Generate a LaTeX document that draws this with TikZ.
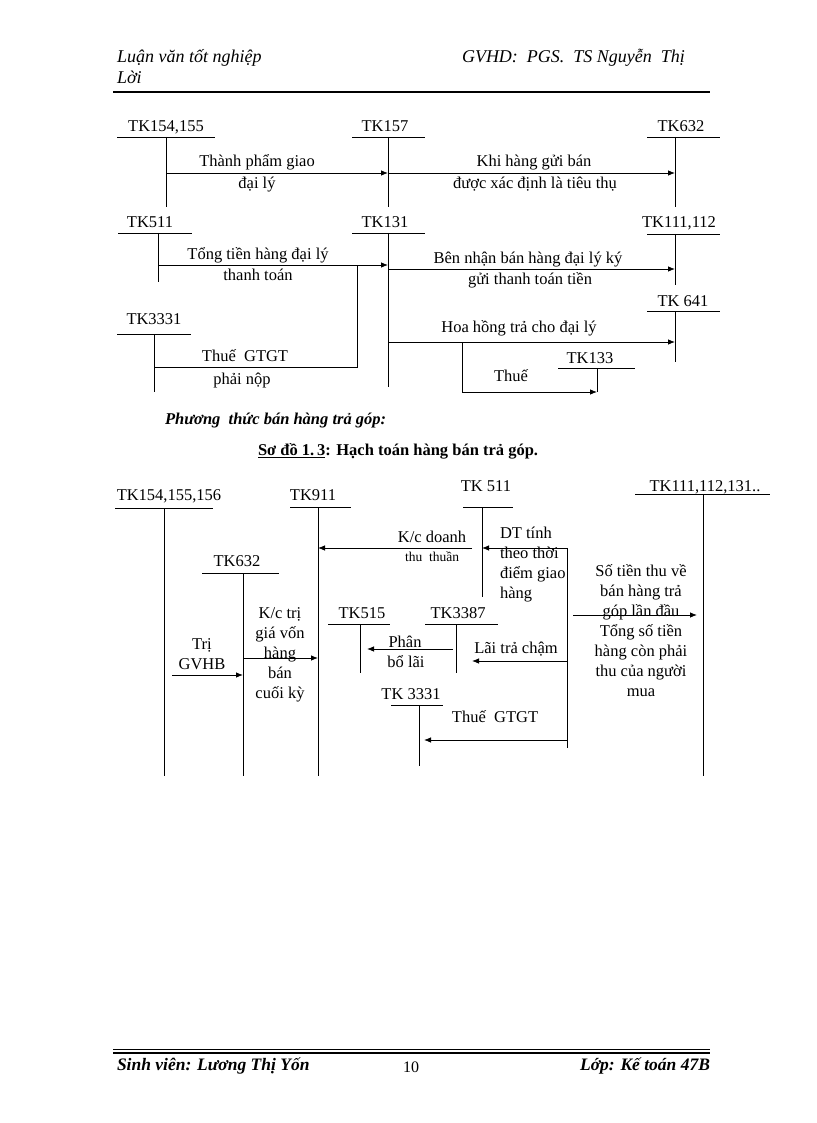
\documentclass[tikz,border=0pt]{standalone}
\usepackage{fontspec}
\setmainfont{Liberation Serif}
\usetikzlibrary{arrows.meta}
\begin{document}
\begin{tikzpicture}[x=1pt,y=-1pt,
  every node/.style={inner sep=0pt, outer sep=0pt},
  txt/.style={font=\fontsize{16.5}{20}\selectfont, align=center},
  lbl/.style={font=\fontsize{16.5}{20}\selectfont, text height=12pt, text depth=4pt},
  small/.style={font=\fontsize{13.5}{16}\selectfont, text height=10pt, text depth=3pt},
  ln/.style={line width=0.8pt},
  arr/.style={line width=0.8pt, -{Latex[length=7pt,width=5.5pt]}},
  hdr/.style={font=\fontsize{18}{21}\selectfont\itshape, text height=12.5pt, text depth=4pt},
  ftr/.style={font=\fontsize{17.5}{20}\selectfont\bfseries\itshape, text height=12.5pt, text depth=4pt},
]
\useasboundingbox (0,0) rectangle (816,1123);

% ---------- header ----------
\node[hdr, anchor=west] (h1) at (117,58) {Luận văn tốt nghiệp};
\node[hdr, anchor=west] (h2) at (117,79) {Lời};
\node[hdr, anchor=west] (h3) at (462,58) {GVHD:\ \ PGS.\ \ TS Nguyễn\ \ Thị};
\draw[line width=1.8pt] (113,92) -- (710,92);

% ---------- diagram 1 ----------
% TK154,155
\node[lbl] (a154) at (166,128) {TK154,155};
\draw[ln] (117,137) -- (215,137);
\coordinate (t154) at (166,137); \coordinate (b154) at (166,207);
\draw[ln] (t154) -- (b154);
% TK157
\node[lbl] (a157) at (385,128) {TK157};
\draw[ln] (352,137) -- (425,137);
\coordinate (t157) at (388,137); \coordinate (b157) at (388,207);
\draw[ln] (t157) -- (b157);
% TK632
\node[lbl] (a632) at (681,128) {TK632};
\draw[ln] (647,137) -- (720,137);
\coordinate (t632) at (675,137); \coordinate (b632) at (675,207);
\draw[ln] (t632) -- (b632);

\draw[arr] (t154 |- 0,173) -- (t157 |- 0,173);
\node[lbl] (l1) at (257,163) {Thành phẩm giao};
\node[lbl] (l1b) at (257,185) {đại lý};
\draw[arr] (t157 |- 0,173) -- (t632 |- 0,173);
\node[lbl] (l2) at (534,163) {Khi hàng gửi bán};
\node[lbl] (l2b) at (535,185) {được xác định là tiêu thụ};

% TK511
\node[lbl] (a511) at (150,224) {TK511};
\draw[ln] (118,233) -- (192,233);
\coordinate (t511) at (158,233); \coordinate (b511) at (158,282);
\draw[ln] (t511) -- (b511);
% TK131
\node[lbl] (a131) at (385,224) {TK131};
\draw[ln] (352,233) -- (425,233);
\coordinate (t131) at (388,233); \coordinate (b131) at (388,387);
\draw[ln] (t131) -- (b131);
% TK111,112
\node[lbl] (a111) at (679,224) {TK111,112};
\draw[ln] (647,234) -- (720,234);
\coordinate (t111) at (675,234); \coordinate (b111) at (675,285);
\draw[ln] (t111) -- (b111);
% TK3331
\node[lbl] (a3331) at (154,320) {TK3331};
\draw[ln] (117,334) -- (191,334);
\coordinate (t3331) at (154,334); \coordinate (b3331) at (154,392);
\draw[ln] (t3331) -- (b3331);
% TK 641
\node[lbl] (a641) at (683,302) {TK\ 641};
\draw[ln] (647,311) -- (720,311);
\coordinate (t641) at (675,311); \coordinate (b641) at (675,362);
\draw[ln] (t641) -- (b641);
% TK133
\node[lbl] (a133) at (590,359) {TK133};
\draw[ln] (558,368) -- (635,368);
\coordinate (t133) at (597,368); \coordinate (b133) at (597,392);
\draw[ln] (t133) -- (b133);

\draw[arr] (t511 |- 0,265) -- (t131 |- 0,265);
\node[lbl] (l3) at (258,255) {Tổng tiền hàng đại lý};
\node[lbl] (l3b) at (258,276) {thanh toán};
\coordinate (j1) at (357,265);
\draw[ln] (j1) -- (357,367) -- (t3331 |- 0,367);
\node[lbl] (l4) at (245,357) {Thuế\ \ GTGT};
\node[lbl] (l4b) at (242,380) {phải nộp};

\draw[arr] (t131 |- 0,269) -- (t111 |- 0,269);
\node[lbl] (l5) at (528,259) {Bên nhận\ bán hàng đại lý ký};
\node[lbl] (l5b) at (530,280) {gửi thanh toán tiền};

\draw[arr] (t131 |- 0,342) -- (t641 |- 0,342);
\node[lbl] (l6) at (519,328) {Hoa hồng trả cho đại lý};
\coordinate (j2) at (462,342);
\draw[arr] (j2) -- (462,392) -- (b133);
\node[lbl] (l7) at (511,377) {Thuế};

% ---------- section titles ----------
\node[font=\fontsize{16.5}{20}\selectfont\bfseries\itshape, anchor=west] (s1) at (165,421) {Phương\ \ thức bán hàng trả góp:};
\node[font=\fontsize{16.5}{20}\selectfont\bfseries, anchor=west] (s2) at (258,451) {\underline{Sơ đồ 1.\,3}: Hạch toán hàng bán trả góp.};

% ---------- diagram 2 ----------
% TK154,155,156
\node[lbl] (c154) at (169,496) {TK154,155,156};
\draw[ln] (115,508) -- (213,508);
\coordinate (u154) at (164,508); \coordinate (d154) at (164,776);
\draw[ln] (u154) -- (d154);
% TK911
\node[lbl] (c911) at (313,496) {TK911};
\draw[ln] (290,507) -- (351,507);
\coordinate (u911) at (318,507); \coordinate (d911) at (318,776);
\draw[ln] (u911) -- (d911);
% TK632
\node[lbl] (c632) at (237,562) {TK632};
\draw[ln] (202,573) -- (279,573);
\coordinate (u632) at (243,573); \coordinate (d632) at (243,776);
\draw[ln] (u632) -- (d632);
% TK 511
\node[lbl] (c511) at (486,487) {TK\ 511};
\draw[ln] (463,507) -- (513,507);
\coordinate (u511) at (482,507); \coordinate (d511) at (482,597);
\draw[ln] (u511) -- (d511);
% TK111,112,131..
\node[lbl] (c111) at (705,487) {TK111,112,131..};
\draw[ln] (635,494) -- (770,494);
\coordinate (u111) at (703,494); \coordinate (d111) at (703,776);
\draw[ln] (u111) -- (d111);
% TK515
\node[lbl] (c515) at (362,614) {TK515};
\draw[ln] (328,624) -- (390,624);
\coordinate (u515) at (360,624); \coordinate (d515) at (360,673);
\draw[ln] (u515) -- (d515);
% TK3387
\node[lbl] (c3387) at (458,614) {TK3387};
\draw[ln] (425,624) -- (498,624);
\coordinate (u3387) at (456,624); \coordinate (d3387) at (456,673);
\draw[ln] (u3387) -- (d3387);
% TK 3331
\node[lbl] (c3331) at (411,695) {TK\ 3331};
\draw[ln] (391,705) -- (443,705);
\coordinate (u3331) at (419,705); \coordinate (d3331) at (419,766);
\draw[ln] (u3331) -- (d3331);

% K/c doanh thu thuan
\coordinate (k1) at (472,548);
\draw[arr] (k1) -- (u911 |- k1);
\node[lbl] (m1) at (432,538) {K/c doanh};
\node[small] (m1b) at (432,558) {thu\ \ thuần};
% DT tinh
\coordinate (v1) at (567,548); \coordinate (v2) at (567,748);
\draw[ln] (v1) -- (v2);
\draw[arr] (v1) -- (u511 |- v1);
\node[txt, align=left, anchor=west] (m2) at (500,565) {DT tính\\theo thời\\điểm giao\\hàng};
% Lai tra cham
\draw[arr] (v1 |- 0,661) -- (472,661);
\node[lbl] (m3) at (516,649) {Lãi trả chậm};
% Phan bo lai
\draw[arr] (453,649) -- (367,649);
\node[lbl] (m4) at (405,643) {Phân};
\node[lbl] (m4b) at (406,663) {bổ lãi};
% Thue GTGT
\draw[arr] (v1 |- 0,740) -- (424,740);
\node[lbl] (m5) at (495,718) {Thuế\ \ GTGT};
% So tien thu
\draw[arr] (573,615) -- (697,615);
\node[txt] (m6) at (641,631) {Số tiền thu về\\bán hàng trả\\góp lần đầu\\Tổng\ số tiền\\hàng\ còn phải\\thu của người\\mua};
% K/c tri gia von
\draw[arr] (u632 |- 0,658) -- (u911 |- 0,658);
\node[txt] (m7) at (280,655) {K/c trị\\giá vốn\\hàng\\bán\\cuối kỳ};
% Tri GVHB
\coordinate (g0) at (172,675);
\draw[arr] (g0) -- (u632 |- g0);
\node[txt] (m8) at (202,654) {Trị\\GVHB};

% ---------- footer ----------
\draw[line width=0.6pt] (113,1049) -- (710,1049);
\draw[line width=1.6pt] (113,1053) -- (710,1053);
\node[ftr, anchor=west] (f1) at (117,1066) {Sinh viên: Lương Thị Yốn};
\node[font=\fontsize{16}{19}\selectfont] (f2) at (411,1067) {10};
\node[ftr, anchor=east] (f3) at (710,1066) {Lớp: Kế toán 47B};
\end{tikzpicture}
\end{document}
